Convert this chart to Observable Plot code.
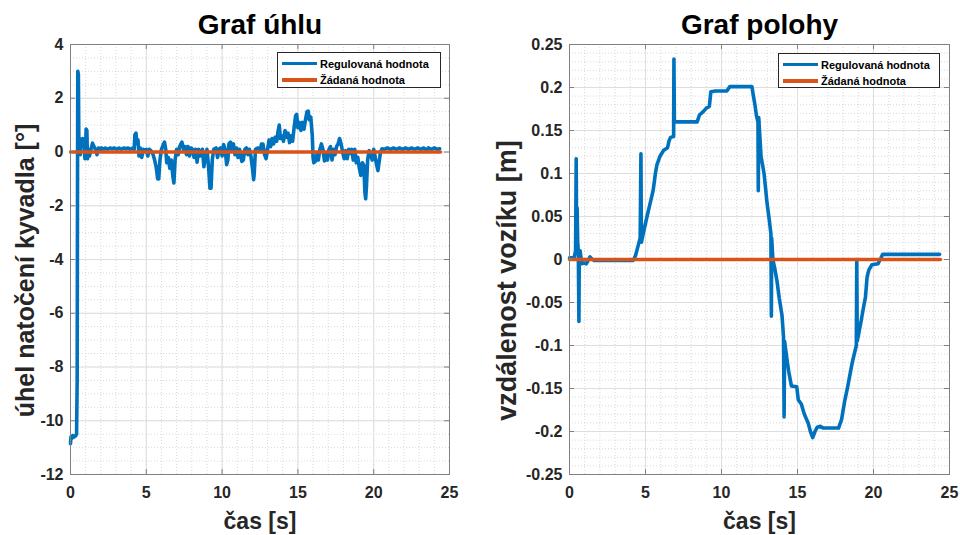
<!DOCTYPE html>
<html><head><meta charset="utf-8">
<script src="https://cdn.jsdelivr.net/npm/d3@7"></script>
<script src="https://cdn.jsdelivr.net/npm/@observablehq/plot@0.6"></script>
<style>
body{margin:0;background:#fff;}
#wrap{position:relative;width:960px;height:535px;display:flex;}
.panel{position:relative;width:480px;height:535px;}
.legend{position:absolute;background:#fff;border:1px solid #262626;box-sizing:border-box;font:bold 11px "Liberation Sans",Arial,sans-serif;color:#000;}
.row{position:absolute;left:4px;height:14px;display:flex;align-items:center;white-space:nowrap;}
.sw{display:inline-block;width:35px;height:3.5px;margin-right:3px;}
svg text{font-weight:bold;}
</style></head>
<body><div id="wrap"></div>
<script>
// ---- data ----
const tAngle = [0.00,0.03,0.10,0.15,0.25,0.35,0.40,0.44,0.46,0.48,0.52,0.55,0.60,0.65,0.70,0.75,0.80,0.85,0.90,0.95,1.00,1.03,1.08,1.12,1.18,1.25,1.35,1.45,1.55,1.65,1.75,1.85,1.95,2.05,2.2,2.3,2.45,2.6,2.75,2.9,3.05,3.2,3.35,3.5,3.65,3.8,3.95,4.1,4.2,4.25,4.32,4.38,4.45,4.52,4.6,4.7,4.8,4.9,5.0,5.1,5.2,5.3,5.45,5.55,5.65,5.75,5.82,5.9,6.0,6.1,6.2,6.28,6.35,6.45,6.55,6.65,6.75,6.82,6.9,7.0,7.1,7.2,7.35,7.45,7.55,7.65,7.75,7.85,7.95,8.05,8.15,8.25,8.35,8.45,8.55,8.7,8.8,8.9,9.0,9.1,9.2,9.27,9.35,9.45,9.6,9.7,9.8,9.9,10.0,10.1,10.2,10.3,10.38,10.45,10.55,10.65,10.75,10.85,10.95,11.05,11.15,11.3,11.4,11.5,11.6,11.7,11.8,11.9,12.0,12.08,12.12,12.2,12.35,12.5,12.6,12.7,12.8,12.9,13.0,13.1,13.2,13.3,13.4,13.5,13.6,13.7,13.77,13.85,13.95,14.05,14.15,14.25,14.35,14.45,14.55,14.65,14.75,14.85,14.92,15.0,15.1,15.2,15.3,15.4,15.5,15.6,15.68,15.75,15.85,15.95,16.0,16.05,16.15,16.25,16.35,16.45,16.55,16.65,16.75,16.85,16.95,17.05,17.15,17.25,17.35,17.45,17.55,17.65,17.75,17.85,17.95,18.05,18.15,18.25,18.35,18.45,18.55,18.65,18.75,18.85,18.95,19.05,19.15,19.25,19.35,19.42,19.47,19.52,19.6,19.7,19.8,19.9,20.0,20.1,20.2,20.28,20.35,20.45,20.55,20.7,20.9,21.1,21.3,21.5,21.7,21.9,22.1,22.3,22.5,22.7,22.9,23.1,23.3,23.5,23.6,23.8,24.0,24.2,24.35];
const angle = [-10.85,-10.6,-10.65,-10.55,-10.6,-10.55,-10.5,-8.5,-2.0,3.0,2.9,0.4,0.5,-0.1,0.45,0.2,0.5,0.3,0.45,-0.25,0.2,0.85,0.8,-0.25,0.1,-0.15,0.1,0.33,0.2,0.1,-0.1,0.15,0.05,0.15,0.1,0.15,0.1,0.15,0.12,0.15,0.1,0.15,0.1,0.15,0.12,0.15,0.1,0.15,0.1,0.65,0.7,0.3,0.45,-0.15,0.15,-0.2,0.1,0.05,0.1,-0.15,0.1,0.05,-0.1,-0.3,-0.55,-1.0,-1.0,-0.3,0.1,0.25,0.37,0.1,-0.4,-0.2,-0.6,-0.3,-0.9,-1.15,-0.3,0.1,-0.1,0.2,0.37,0.1,0.2,-0.1,0.2,-0.15,0.15,0.1,-0.2,0.1,-0.38,0.1,-0.15,0.1,-0.55,-0.2,0.1,-0.5,-1.35,-1.35,-0.3,0.1,0.15,-0.2,0.1,0.15,-0.15,0.28,0.1,-0.47,-0.3,0.3,0.37,0.1,0.3,-0.1,0.15,-0.2,0.1,-0.35,-0.3,0.1,0.15,-0.1,0.1,-0.15,-0.6,-1.03,-0.8,0.1,0.15,0.05,0.3,0.3,-0.1,-0.25,0.1,0.45,0.2,0.5,0.3,0.55,0.4,0.8,1.0,0.5,0.6,0.4,0.8,0.55,0.7,0.35,0.6,0.4,0.9,1.35,1.4,0.9,1.1,0.8,1.1,0.85,1.2,1.5,1.52,1.2,1.3,0.6,-0.2,-0.4,-0.35,-0.1,-0.3,0.1,0.3,0.1,-0.33,-0.1,-0.3,0.1,0.2,-0.3,0.1,-0.1,0.2,0.3,0.5,0.3,0.0,-0.25,0.05,-0.25,0.1,-0.05,0.1,-0.3,0.1,-0.4,-0.2,-0.6,-0.87,-0.4,-0.5,-1.5,-1.74,-1.3,-0.3,0.05,-0.1,-0.3,0.1,-0.2,-0.5,-0.69,-0.4,0.0,0.12,0.1,0.15,0.1,0.15,0.1,0.15,0.1,0.15,0.1,0.15,0.1,0.15,0.1,0.15,0.05,0.15,0.1,0.15,0.1,0.12];

const tPos = [0.0,0.3,0.40,0.44,0.47,0.50,0.54,0.58,0.62,0.64,0.70,0.80,0.95,1.1,1.2,1.35,1.45,1.6,2.5,3.5,4.2,4.35,4.5,4.65,4.70,4.73,4.85,5.1,5.3,5.5,5.65,5.75,5.95,6.2,6.45,6.55,6.65,6.85,6.87,6.90,7.5,8.0,8.4,8.55,8.8,9.0,9.2,9.3,9.6,10.35,10.55,11.0,12.0,12.1,12.2,12.3,12.4,12.42,12.45,12.6,12.8,13.0,13.15,13.25,13.28,13.30,13.38,13.5,13.65,13.8,13.98,14.08,14.12,14.15,14.3,14.42,14.6,14.95,15.05,15.25,15.45,15.7,15.85,16.0,16.15,16.3,16.5,16.7,17.7,17.9,18.1,18.3,18.6,18.87,18.9,18.93,19.15,19.35,19.47,19.58,19.7,19.9,20.3,20.5,20.6,24.35];
const pos = [0.002,0.002,0.01,0.117,0.01,0.06,0.02,0.01,-0.072,0.0,0.01,-0.005,-0.004,-0.005,-0.002,0.003,0.001,-0.001,-0.001,-0.001,-0.001,0.005,0.015,0.025,0.123,0.02,0.03,0.05,0.065,0.08,0.1,0.11,0.12,0.127,0.13,0.138,0.142,0.143,0.233,0.16,0.16,0.16,0.16,0.168,0.172,0.176,0.178,0.195,0.196,0.196,0.201,0.201,0.201,0.19,0.18,0.167,0.16,0.08,0.165,0.12,0.1,0.065,0.045,0.03,-0.066,0.025,0.0,-0.01,-0.025,-0.045,-0.065,-0.09,-0.183,-0.095,-0.115,-0.13,-0.147,-0.148,-0.163,-0.168,-0.18,-0.19,-0.2,-0.207,-0.2,-0.195,-0.194,-0.196,-0.196,-0.186,-0.165,-0.148,-0.12,-0.1,0.0,-0.095,-0.075,-0.055,-0.044,-0.02,-0.012,-0.006,-0.005,0.002,0.006,0.006];

const tSet = [0, 24.4];
const setpoint = [0, 0];

const xTicks = [0, 5, 10, 15, 20, 25];
const yTicksAngle = [4, 2, 0, -2, -4, -6, -8, -10, -12];
const yTicksPos = [0.25, 0.2, 0.15, 0.1, 0.05, 0, -0.05, -0.1, -0.15, -0.2, -0.25];
const titles = ["Graf úhlu", "Graf polohy"];
const xLabel = "čas [s]";
const yLabels = ["úhel natočení kyvadla [°]", "vzdálenost vozíku [m]"];
const legendLabels = ["Regulovaná hodnota", "Žádaná hodnota"];
const colors = ["#0072BD", "#D95319"];

// ---- rendering ----
const FONT = '"Liberation Sans", Arial, Helvetica, sans-serif';
const xMinor = d3.range(0, 26, 1);
const yMinorAngle = d3.range(-12, 4.001, 0.5);
const yMinorPos = d3.range(-25, 26, 1).map(d => d / 100);
const fmt = d => String(d);
const frameColor = "#808080";

function panel(o) {
  const lineData = o.t.map((t, i) => ({t, v: o.v[i]}));
  const setData = tSet.map((t, i) => ({t, v: setpoint[i]}));
  const [yLo, yHi] = o.yDomain;
  return Plot.plot({
    width: 480, height: 535,
    marginLeft: o.ml, marginRight: o.mr, marginTop: 44, marginBottom: 61,
    style: {fontFamily: FONT, fontWeight: "bold", fontSize: "16px", color: "#262626", background: "#fff", overflow: "visible"},
    x: {domain: [0, 25]},
    y: {domain: o.yDomain},
    marks: [
      Plot.gridX(xMinor, {stroke: "#c8c8c8", strokeOpacity: 1, strokeWidth: 0.7, strokeDasharray: "1,2"}),
      Plot.gridY(o.yMinor, {stroke: "#c8c8c8", strokeOpacity: 1, strokeWidth: 0.7, strokeDasharray: "1,2"}),
      Plot.gridX(xTicks, {stroke: "#dedede", strokeOpacity: 1, strokeWidth: 1}),
      Plot.gridY(o.yTicks, {stroke: "#dedede", strokeOpacity: 1, strokeWidth: 1}),
      Plot.line(lineData, {x: "t", y: "v", stroke: colors[0], strokeWidth: 3.6, strokeLinejoin: "round"}),
      Plot.line(setData, {x: "t", y: "v", stroke: colors[1], strokeWidth: 3.5}),
      Plot.frame({stroke: frameColor, strokeWidth: 1}),
      Plot.ruleX(xTicks, {x: d => d, y1: yLo, y2: yLo, insetBottom: 5, stroke: frameColor}),
      Plot.ruleX(xTicks, {x: d => d, y1: yHi, y2: yHi, insetTop: 5, stroke: frameColor}),
      Plot.ruleY(o.yTicks, {y: d => d, x1: 0, x2: 0, insetLeft: 5, stroke: frameColor}),
      Plot.ruleY(o.yTicks, {y: d => d, x1: 25, x2: 25, insetRight: 5, stroke: frameColor}),
      Plot.axisX(xTicks, {tickSize: 0, tickPadding: 12, tickFormat: fmt, label: null, fontSize: 16, fontWeight: "bold", fill: "#262626"}),
      Plot.axisY(o.yTicks, {tickSize: 0, tickPadding: 7, tickFormat: fmt, label: null, fontSize: 16, fontWeight: "bold", fill: "#262626"}),
      Plot.text([o.title], {text: d => d, frameAnchor: "top", lineAnchor: "bottom", dy: -11, fontSize: 28, fontWeight: "bold", fill: "#000"}),
      Plot.text([xLabel], {text: d => d, frameAnchor: "bottom", lineAnchor: "bottom", dy: 54, fontSize: 23, fontWeight: "bold", fill: "#262626"}),
      Plot.text([o.ylabel], {text: d => d, frameAnchor: "left", textAnchor: "middle", rotate: -90, lineAnchor: "bottom", dx: o.ldx, dy: o.ldy, fontSize: o.lfs, fontWeight: "bold", fill: "#262626"})
    ]
  });
}

function legend(box) {
  const div = document.createElement("div");
  div.className = "legend";
  Object.assign(div.style, {left: box.left + "px", top: box.top + "px", width: box.width + "px", height: box.height + "px"});
  legendLabels.forEach((lab, i) => {
    const row = document.createElement("div");
    row.className = "row";
    row.style.top = (i === 0 ? 3.5 : 20) + "px";
    const sw = document.createElement("span");
    sw.className = "sw";
    sw.style.background = colors[i];
    row.appendChild(sw);
    const tx = document.createElement("span");
    tx.textContent = lab;
    row.appendChild(tx);
    div.appendChild(row);
  });
  return div;
}

const wrap = document.getElementById("wrap");
const specs = [
  {t: tAngle, v: angle, yDomain: [-12, 4], yTicks: yTicksAngle, yMinor: yMinorAngle, ml: 70, mr: 31, ldx: -36.7, ldy: 11, lfs: 25, title: titles[0], ylabel: yLabels[0], leg: {left: 277, top: 52, width: 164, height: 36}},
  {t: tPos, v: pos, yDomain: [-0.25, 0.25], yTicks: yTicksPos, yMinor: yMinorPos, ml: 89, mr: 11, ldx: -54, ldy: 21, lfs: 27, title: titles[1], ylabel: yLabels[1], leg: {left: 298, top: 53, width: 162, height: 35}}
];
for (const s of specs) {
  const p = document.createElement("div");
  p.className = "panel";
  p.appendChild(panel(s));
  p.appendChild(legend(s.leg));
  wrap.appendChild(p);
}
</script></body></html>
